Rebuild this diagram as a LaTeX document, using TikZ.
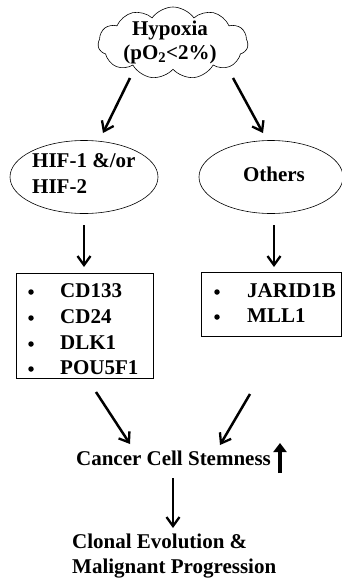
\documentclass[tikz,border=0pt]{standalone}
\usepackage{fontspec}
\setmainfont{Liberation Serif}
\usetikzlibrary{shapes.symbols,shapes.geometric,arrows.meta}
\begin{document}
\begin{tikzpicture}[x=1pt,y=-1pt,
  txt/.style={font=\fontsize{21}{25}\selectfont\bfseries, inner sep=0pt},
  arr/.style={line width=2.5pt, -{Straight Barb[length=9pt,width=13pt,line width=2.3pt]}},
  oval/.style={draw, ellipse, line width=0.6pt},
  bx/.style={draw, line width=0.6pt},
  bul/.style={circle, fill, inner sep=0pt, minimum size=5.5pt}]
\useasboundingbox (0,0) rectangle (341,582);
% cloud
\node[draw, cloud, cloud puffs=11, cloud puff arc=110, aspect=2.1, line width=0.6pt,
      minimum width=150pt, minimum height=72pt, inner sep=0pt] (cloud) at (173,43) {};
\node[txt, anchor=base] (hyp) at (170,35) {Hypoxia};
\node[txt, anchor=base] (po2) at (170,59) {(pO\textsubscript{2}<2\%)};
% ellipses
\node[oval, minimum width=148pt, minimum height=73pt] (hif) at (84,177) {};
\node[txt, anchor=base west] (hif1) at (32,167) {HIF-1 \&/or};
\node[txt, anchor=base west] (hif2) at (32,193) {HIF-2};
\node[oval, minimum width=144pt, minimum height=73pt] (oth) at (271,177) {};
\node[txt, anchor=base] (otht) at (274,181) {Others};
% boxes
\node[bx, minimum width=137pt, minimum height=105pt, inner sep=0pt] (lbox) at (84.5,325.5) {};
\node[bx, minimum width=140pt, minimum height=64pt, inner sep=0pt] (rbox) at (271,304) {};
\foreach \y/\t [count=\i] in {297/CD133,323/CD24,349/DLK1,374/POU5F1}{
  \node[bul] (lb\i) at (31,\y-5) {};
  \node[txt, anchor=base west] (lt\i) at (60,\y) {\t};
}
\foreach \y/\t [count=\i] in {297/JARID1B,322/MLL1}{
  \node[bul] (rb\i) at (217,\y-5) {};
  \node[txt, anchor=base west] (rt\i) at (247,\y) {\t};
}
% stemness
\node[txt, anchor=base] (stem) at (173.5,465) {Cancer Cell Stemness};
\node[txt, anchor=base west] (clon1) at (72,548) {Clonal Evolution \&};
\node[txt, anchor=base west] (clon2) at (72,573) {Malignant Progression};
% arrows
\coordinate (c1) at (130,78);  \coordinate (c2) at (103,133);
\coordinate (c3) at (233,78);  \coordinate (c4) at (263,133);
\coordinate (h1) at (84,225);  \coordinate (h2) at (84,267);
\coordinate (o1) at (274,225); \coordinate (o2) at (274,267);
\coordinate (s1) at (96,392);  \coordinate (s2) at (130,444);
\coordinate (s3) at (250,394); \coordinate (s4) at (220,445);
\coordinate (d1) at (173,478); \coordinate (d2) at (173,528);
\coordinate (u1) at (280,473); \coordinate (u2) at (280,443);
\draw[arr] (c1) -- (c2);
\draw[arr] (c3) -- (c4);
\draw[arr] (h1) -- (h2);
\draw[arr] (o1) -- (o2);
\draw[arr] (s1) -- (s2);
\draw[arr] (s3) -- (s4);
\draw[arr] (d1) -- (d2);
\draw[line width=4.5pt, -{Triangle[length=9pt,width=13pt]}] (u1) -- (u2);
\end{tikzpicture}
\end{document}
